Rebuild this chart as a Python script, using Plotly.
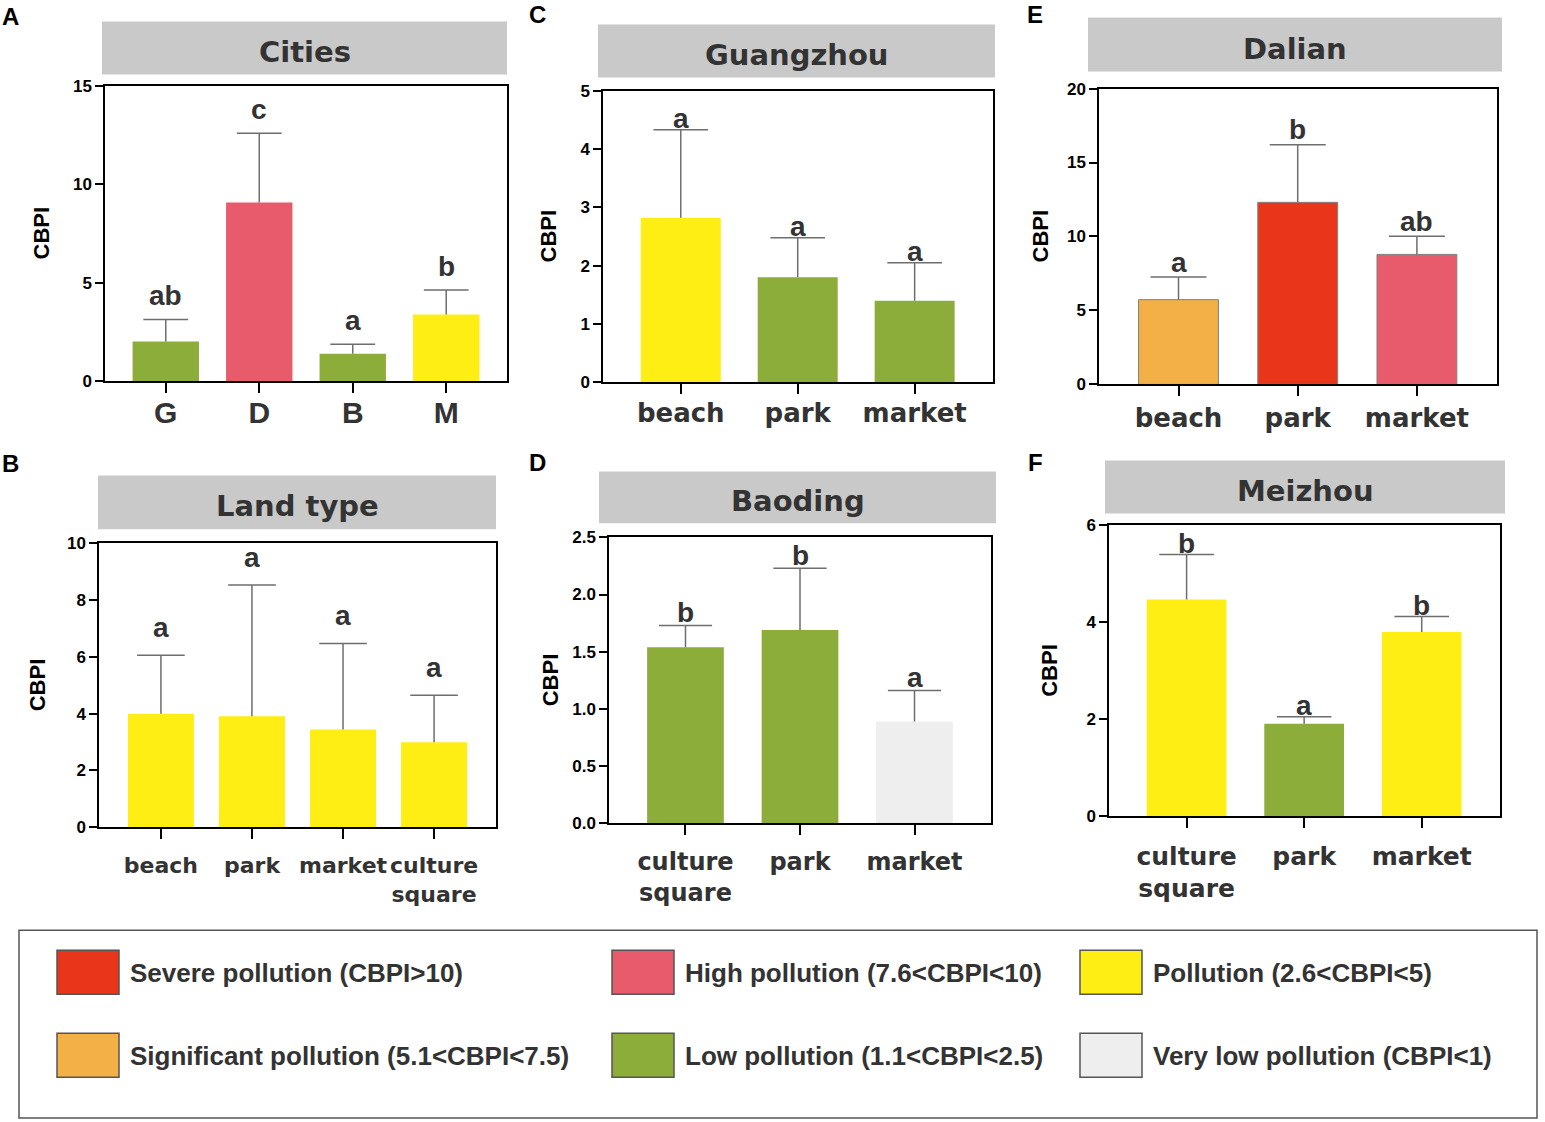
import plotly.graph_objects as go

W, H = 1545, 1122

# pollution classes (legend)
class_keys = ["severe", "high", "pollution", "significant", "low", "very_low"]
class_colors = ["#E9361A", "#E85B6D", "#FFEE14", "#F2B046", "#8DAD3B", "#EEEEEE"]
class_labels = ["Severe pollution (CBPI>10)", "High pollution (7.6<CBPI<10)",
                "Pollution (2.6<CBPI<5)", "Significant pollution (5.1<CBPI<7.5)",
                "Low pollution (1.1<CBPI<2.5)", "Very low pollution (CBPI<1)"]

# A - cities
cities_cat = ["G", "D", "B", "M"]
cities_mean = [2.03, 9.07, 1.40, 3.40]
cities_err = [1.11, 3.51, 0.48, 1.23]
cities_cls = ["low", "high", "low", "pollution"]
cities_sig = ["ab", "c", "a", "b"]

# B - land type
land_cat = ["beach", "park", "market", "culture<br>square"]
land_mean = [4.00, 3.91, 3.44, 2.99]
land_err = [2.06, 4.62, 3.03, 1.66]
land_cls = ["pollution", "pollution", "pollution", "pollution"]
land_sig = ["a", "a", "a", "a"]

# C - Guangzhou
gz_cat = ["beach", "park", "market"]
gz_mean = [2.82, 1.80, 1.40]
gz_err = [1.51, 0.68, 0.65]
gz_cls = ["pollution", "low", "low"]
gz_sig = ["a", "a", "a"]

# D - Baoding
bd_cat = ["culture<br>square", "park", "market"]
bd_mean = [1.54, 1.69, 0.89]
bd_err = [0.19, 0.54, 0.27]
bd_cls = ["low", "low", "very_low"]
bd_sig = ["b", "b", "a"]

# E - Dalian
dl_cat = ["beach", "park", "market"]
dl_mean = [5.73, 12.31, 8.79]
dl_err = [1.53, 3.89, 1.23]
dl_cls = ["significant", "severe", "high"]
dl_sig = ["a", "b", "ab"]

# F - Meizhou
mz_cat = ["culture<br>square", "park", "market"]
mz_mean = [4.47, 1.91, 3.80]
mz_err = [0.93, 0.14, 0.32]
mz_cls = ["pollution", "low", "pollution"]
mz_sig = ["b", "a", "b"]

DARK = "#333333"
ERR = "#6E6E6E"
ARIAL = "Liberation Sans, Arial, sans-serif"
WIDE = "DejaVu Sans, Verdana, sans-serif"

# panel boxes in pixels: (left, right, top, bottom)
panels = [
    dict(letter="A", title="Cities", cat=cities_cat, mean=cities_mean, err=cities_err, cls=cities_cls,
         sig=cities_sig, box=(105, 507, 85, 381), tbox=(102, 507, 21, 74), lpos=(10, 16),
         ymax=15, dtick=5, fmt="", xr=[-0.65, 3.65], bw=0.71, cap=32, sshift=24,
         tfont=dict(family=ARIAL, size=30, color=DARK, weight="bold"), stand=-6, edge=0, ylab=63),
    dict(letter="B", title="Land type", cat=land_cat, mean=land_mean, err=land_err, cls=land_cls,
         sig=land_sig, box=(99, 496, 543, 827), tbox=(98, 496, 475, 529), lpos=(10, 463),
         ymax=10, dtick=2, fmt="", xr=[-0.68, 3.68], bw=0.725, cap=34, sshift=28,
         tfont=dict(family=WIDE, size=22, color=DARK, weight="bold"), stand=8, edge=0, ylab=62),
    dict(letter="C", title="Guangzhou", cat=gz_cat, mean=gz_mean, err=gz_err, cls=gz_cls,
         sig=gz_sig, box=(603, 993, 90, 382), tbox=(598, 995, 24, 77), lpos=(537, 14),
         ymax=5, dtick=1, fmt="", xr=[-0.665, 2.67], bw=0.684, cap=39, sshift=11,
         tfont=dict(family=WIDE, size=26, color=DARK, weight="bold"), stand=-3, edge=0, ylab=55),
    dict(letter="D", title="Baoding", cat=bd_cat, mean=bd_mean, err=bd_err, cls=bd_cls,
         sig=bd_sig, box=(609, 991, 537, 823), tbox=(599, 996, 471, 523), lpos=(537, 462),
         ymax=2.5, dtick=0.5, fmt=".1f", xr=[-0.668, 2.668], bw=0.67, cap=38, sshift=13,
         tfont=dict(family=WIDE, size=24, color=DARK, weight="bold"), stand=6, edge=0, ylab=59),
    dict(letter="E", title="Dalian", cat=dl_cat, mean=dl_mean, err=dl_err, cls=dl_cls,
         sig=dl_sig, box=(1099, 1497, 88, 384), tbox=(1088, 1502, 17, 71), lpos=(1035, 14),
         ymax=20, dtick=5, fmt="", xr=[-0.667, 2.672], bw=0.67, cap=40, sshift=15,
         tfont=dict(family=WIDE, size=26, color=DARK, weight="bold"), stand=0, edge=1, ylab=59),
    dict(letter="F", title="Meizhou", cat=mz_cat, mean=mz_mean, err=mz_err, cls=mz_cls,
         sig=mz_sig, box=(1109, 1500, 525, 816), tbox=(1105, 1505, 460, 513), lpos=(1035, 462),
         ymax=6, dtick=2, fmt="", xr=[-0.66, 2.666], bw=0.678, cap=39, sshift=11,
         tfont=dict(family=WIDE, size=25, color=DARK, weight="bold"), stand=7, edge=0, ylab=59),
]

# the photographed page comes out slightly squeezed vertically; undo that here
Y_OFF, Y_SCALE = 8.4, 0.9835


def px_x(v):
    return v / W


def px_y(v):
    return 1 - (v - Y_OFF) / Y_SCALE / H


fig = go.Figure()
shapes = []
annotations = []
axes = {}

for i, p in enumerate(panels):
    n = "" if i == 0 else str(i + 1)
    xa, ya = "x" + n, "y" + n
    colors = [class_colors[class_keys.index(c)] for c in p["cls"]]
    fig.add_trace(go.Bar(
        x=p["cat"], y=p["mean"], width=p["bw"], xaxis=xa, yaxis=ya,
        marker=dict(color=colors, line=dict(width=p["edge"], color="#808080")),
        error_y=dict(type="data", symmetric=False, array=p["err"],
                     arrayminus=[0] * len(p["err"]), color=ERR, thickness=1.5, width=0),
        showlegend=False, hoverinfo="skip"))
    tops = [m + e for m, e in zip(p["mean"], p["err"])]
    fig.add_trace(go.Scatter(
        x=p["cat"], y=tops, mode="markers", xaxis=xa, yaxis=ya,
        marker=dict(symbol="line-ew", size=p["cap"], line=dict(width=1.5, color=ERR)),
        showlegend=False, hoverinfo="skip"))
    for c, t, s in zip(p["cat"], tops, p["sig"]):
        annotations.append(dict(x=c, y=t, xref=xa, yref=ya, text=s, showarrow=False,
                                xanchor="center", yanchor="middle", yshift=p["sshift"],
                                font=dict(family=ARIAL, size=28, color=DARK, weight="bold")))

    l, r, t, b = p["box"]
    axes["xaxis" + n] = dict(
        domain=[px_x(l), px_x(r)], anchor=ya, range=p["xr"], showline=True,
        linecolor="black", linewidth=1.5, mirror=True, ticks="outside", ticklen=10,
        tickwidth=1.5, tickcolor="black", tickfont=p["tfont"], ticklabelstandoff=p["stand"],
        tickangle=0, showgrid=False, zeroline=False, fixedrange=True)
    axes["yaxis" + n] = dict(
        domain=[px_y(b), px_y(t)], anchor=xa, range=[0, p["ymax"]], dtick=p["dtick"],
        tickformat=p["fmt"], showline=True, linecolor="black", linewidth=1.5, mirror=True,
        ticks="outside", ticklen=8, tickwidth=1.5, tickcolor="black",
        tickfont=dict(family=ARIAL, size=17, color="black", weight="bold"),
        showgrid=False, zeroline=False, fixedrange=True)

    # title strip
    tl, tr, tt, tb = p["tbox"]
    shapes.append(dict(type="rect", xref="paper", yref="paper", x0=px_x(tl), x1=px_x(tr),
                       y0=px_y(tb), y1=px_y(tt), fillcolor="#C9C9C9", line=dict(width=0), layer="below"))
    annotations.append(dict(x=px_x((tl + tr) / 2), y=px_y((tt + tb) / 2 + 4), xref="paper", yref="paper",
                            xanchor="center", yanchor="middle", text=p["title"], showarrow=False,
                            font=dict(family=WIDE, size=29, color=DARK, weight="bold")))
    # panel letter
    annotations.append(dict(x=px_x(p["lpos"][0]), y=px_y(p["lpos"][1]), xref="paper", yref="paper",
                            xanchor="center", yanchor="middle", text=p["letter"], showarrow=False,
                            font=dict(family=ARIAL, size=24, color="black", weight="bold")))
    # y axis label
    annotations.append(dict(x=px_x(l - p["ylab"]), y=px_y((t + b) / 2), xref="paper", yref="paper",
                            xanchor="center", yanchor="middle", text="CBPI", textangle=-90,
                            showarrow=False,
                            font=dict(family=ARIAL, size=22, color="black", weight="bold")))

# legend box
shapes.append(dict(type="rect", xref="paper", yref="paper", x0=px_x(19), x1=px_x(1537),
                   y0=px_y(1118), y1=px_y(930), line=dict(color="#555555", width=1.5)))
leg_cols = [57, 612, 1080]
leg_rows = [950, 1033]
for k, (lab, col) in enumerate(zip(class_labels, class_colors)):
    cx = leg_cols[k % 3]
    ry = leg_rows[k // 3]
    shapes.append(dict(type="rect", xref="paper", yref="paper", x0=px_x(cx), x1=px_x(cx + 62),
                       y0=px_y(ry + 44), y1=px_y(ry), fillcolor=col,
                       line=dict(color="#555555", width=1.5)))
    annotations.append(dict(x=px_x(cx + 71), y=px_y(ry + 23), xref="paper", yref="paper",
                            xanchor="left", yanchor="middle", text=lab, showarrow=False,
                            font=dict(family=ARIAL, size=26, color=DARK, weight="bold")))

fig.update_layout(
    width=W, height=H, margin=dict(l=0, r=0, t=0, b=0), autosize=False,
    paper_bgcolor="white", plot_bgcolor="white",
    shapes=shapes, annotations=annotations, showlegend=False,
    **axes)

pin_page = ("document.body.style.margin='0';document.body.style.overflow='hidden';"
            "var gd=document.getElementById('{plot_id}');"
            "gd.style.position='absolute';gd.style.top='0px';gd.style.left='0px';")
fig.write_html("out.html", config=dict(responsive=False, displayModeBar=False),
               post_script=pin_page)
